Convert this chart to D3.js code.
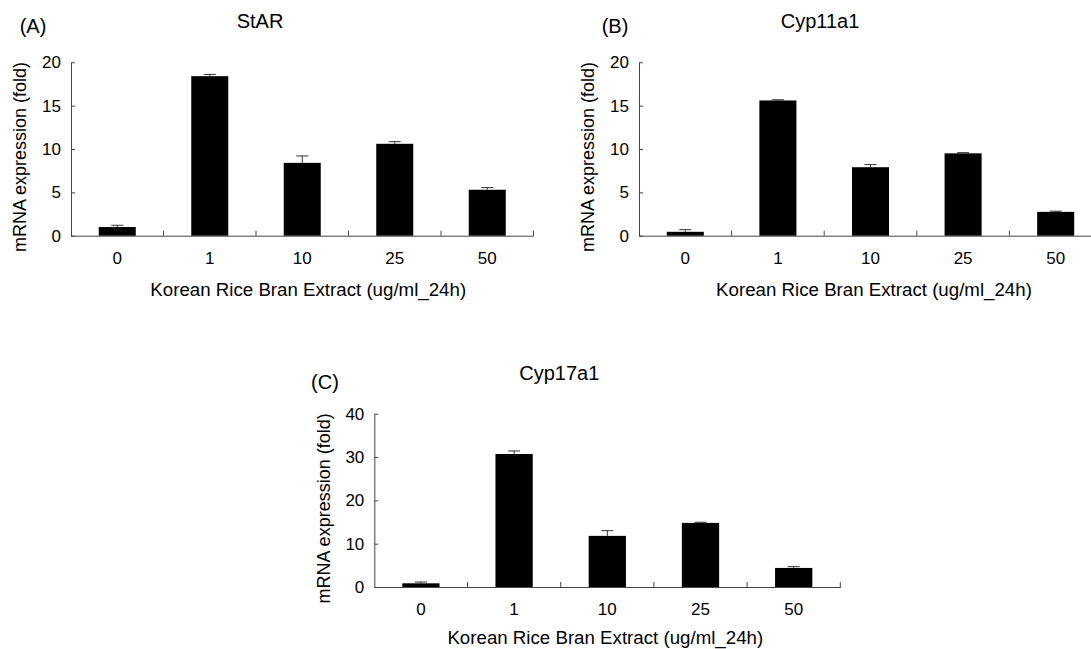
<!DOCTYPE html>
<html>
<head>
<meta charset="utf-8">
<script src="https://cdn.jsdelivr.net/npm/d3@7"></script>
<style>
  body { margin: 0; background: #fff; }
  svg { display: block; font-family: "Liberation Sans", Arial, sans-serif; }
  .axis path, .axis line { stroke: #444; }
  .axis text { font-size: 17px; fill: #000; font-family: "Liberation Sans", Arial, sans-serif; }
</style>
</head>
<body>
<svg id="chart" width="1091" height="649"></svg>
<script>
// doses on the x axis
var doses = ["0", "1", "10", "25", "50"];

// StAR
var starMean = [1.0, 18.4, 8.4, 10.6, 5.3];
var starErr  = [0.2, 0.2, 0.8, 0.25, 0.25];
var starTicks = [0, 5, 10, 15, 20];

// Cyp11a1
var cyp11Mean = [0.45, 15.6, 7.9, 9.5, 2.75];
var cyp11Err  = [0.25, 0.08, 0.3, 0.08, 0.08];
var cyp11Ticks = [0, 5, 10, 15, 20];

// Cyp17a1
var cyp17Mean = [0.85, 30.7, 11.8, 14.8, 4.4];
var cyp17Err  = [0.3, 0.7, 1.2, 0.15, 0.3];
var cyp17Ticks = [0, 10, 20, 30, 40];

var xTitle = "Korean Rice Bran Extract (ug/ml_24h)";
var yTitle = "mRNA expression (fold)";

var svg = d3.select("#chart");

function renderPanel(p) {
  var x = d3.scaleBand().domain(doses).range([0, p.width]).padding(0);
  var y = d3.scaleLinear().domain([0, d3.max(p.ticks)]).range([p.height, 0]);

  var g = svg.append("g")
      .attr("transform", "translate(" + p.left + "," + p.top + ")");

  // panel letter and gene title
  svg.append("text")
      .attr("x", p.letterX).attr("y", p.letterY)
      .attr("text-anchor", "middle")
      .attr("font-size", 20)
      .text(p.letter);
  svg.append("text")
      .attr("x", p.left + p.titleDx).attr("y", p.top - 34)
      .attr("text-anchor", "middle")
      .attr("font-size", 20)
      .text(p.title);

  // y axis, ticks point inward
  g.append("g")
      .attr("class", "axis")
      .call(d3.axisLeft(y).tickValues(p.ticks).tickSizeInner(-4).tickSizeOuter(0).tickPadding(10));

  // x axis with category labels
  var xa = g.append("g")
      .attr("class", "axis")
      .attr("transform", "translate(0," + p.height + ")")
      .call(d3.axisBottom(x).tickSizeInner(0).tickSizeOuter(0).tickPadding(16));

  // separator ticks between categories
  xa.selectAll(".sep")
      .data(doses)
    .enter().append("line")
      .attr("class", "sep")
      .attr("x1", function(d) { return x(d) + x.step(); })
      .attr("x2", function(d) { return x(d) + x.step(); })
      .attr("y1", 0)
      .attr("y2", -5)
      .attr("stroke", "#444");

  var bw = x.bandwidth() * 0.4;

  // error bars (upper only)
  var eb = g.selectAll(".err")
      .data(p.mean)
    .enter().append("g")
      .attr("class", "err");
  eb.append("line")
      .attr("x1", function(d, i) { return x(doses[i]) + x.bandwidth() / 2; })
      .attr("x2", function(d, i) { return x(doses[i]) + x.bandwidth() / 2; })
      .attr("y1", function(d) { return y(d); })
      .attr("y2", function(d, i) { return y(d + p.err[i]); })
      .attr("stroke", "#333");
  eb.append("line")
      .attr("x1", function(d, i) { return x(doses[i]) + x.bandwidth() / 2 - 6; })
      .attr("x2", function(d, i) { return x(doses[i]) + x.bandwidth() / 2 + 6; })
      .attr("y1", function(d, i) { return y(d + p.err[i]); })
      .attr("y2", function(d, i) { return y(d + p.err[i]); })
      .attr("stroke", "#333");

  g.selectAll(".bar")
      .data(p.mean)
    .enter().append("rect")
      .attr("class", "bar")
      .attr("x", function(d, i) { return x(doses[i]) + (x.bandwidth() - bw) / 2; })
      .attr("width", bw)
      .attr("y", function(d) { return y(d); })
      .attr("height", function(d) { return p.height - y(d); })
      .attr("fill", "#000");

  // axis titles
  g.append("text")
      .attr("x", p.width / 2 + p.xTitleDx)
      .attr("y", p.height + p.xTitleDy)
      .attr("text-anchor", "middle")
      .attr("font-size", 18.7)
      .text(xTitle);
  g.append("text")
      .attr("transform", "translate(-51," + (p.height / 2 + 8) + ") rotate(-90)")
      .attr("dy", "0.35em")
      .attr("text-anchor", "middle")
      .attr("font-size", 18)
      .text(yTitle);
}

renderPanel({letter: "(A)", letterX: 33, letterY: 33, title: "StAR", titleDx: 189,
  left: 71, top: 62.3, width: 462.5, height: 173.4, xTitleDx: 6, xTitleDy: 60.5,
  mean: starMean, err: starErr, ticks: starTicks});
renderPanel({letter: "(B)", letterX: 615, letterY: 33, title: "Cyp11a1", titleDx: 181,
  left: 639, top: 62.3, width: 463, height: 173.4, xTitleDx: 3.5, xTitleDy: 60.5,
  mean: cyp11Mean, err: cyp11Err, ticks: cyp11Ticks});
renderPanel({letter: "(C)", letterX: 325, letterY: 389, title: "Cyp17a1", titleDx: 185,
  left: 374.3, top: 413.7, width: 466, height: 173.3, xTitleDx: -2, xTitleDy: 57.5,
  mean: cyp17Mean, err: cyp17Err, ticks: cyp17Ticks});
</script>
</body>
</html>
